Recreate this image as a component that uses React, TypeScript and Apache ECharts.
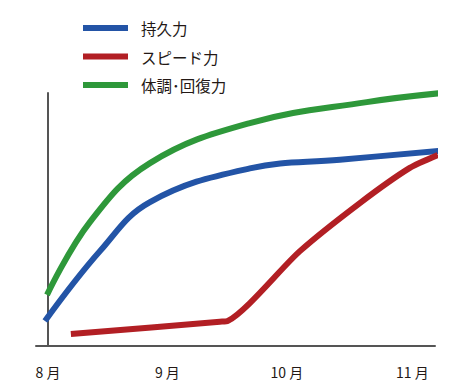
import React, { useEffect, useRef } from "react";
import * as echarts from "echarts";

// x in months since August (0 = 8月), y in relative level (0..100)
const seriesNames = ["持久力", "スピード力", "体調･回復力"];
const seriesColors = ["#2354a6", "#b21f24", "#2e983a"];

const tickValues = [0, 1, 2, 3.05];
const tickLabels = ["8 月", "9 月", "10 月", "11 月"];

const staminaData: number[][] = [
  [-0.025, 9.9],
  [0.435, 37.5],
  [0.854, 56.9],
  [1.69, 70.2],
  [2.444, 73.6],
  [3.272, 77.1],
];

const speedData: number[][] = [
  [0.192, 4.7],
  [1.439, 9.6],
  [1.506, 9.9],
  [2.109, 37.5],
  [2.611, 56.5],
  [3.029, 70.4],
  [3.264, 75.5],
];

const conditionData: number[][] = [
  [-0.008, 20.2],
  [0.351, 49.0],
  [0.854, 72.3],
  [1.69, 88.1],
  [2.669, 96.4],
  [3.297, 100.0],
];

export default function App() {
  const ref = useRef<HTMLDivElement>(null);
  useEffect(() => {
    document.body.style.margin = "0";
    if (!ref.current) return;
    const chart = echarts.init(ref.current, null, { renderer: "svg" });
    const font = "'Noto Sans CJK JP', 'Noto Sans', sans-serif";
    const datas = [staminaData, speedData, conditionData];
    const smooths = [0.4, 0.25, 0.4];
    chart.setOption({
      animation: false,
      backgroundColor: "#ffffff",
      textStyle: { fontFamily: font },
      legend: {
        orient: "vertical",
        left: 78,
        top: 13,
        itemWidth: 45,
        itemHeight: 6,
        itemGap: 8.5,
        icon: "rect",
        data: seriesNames,
        textStyle: {
          fontSize: 15.5,
          lineHeight: 20,
          color: "#231815",
          fontFamily: font,
          padding: [0, 0, 0, 8],
        },
      },
      grid: { left: 36, right: 26, top: 93, bottom: 45 },
      xAxis: {
        type: "value",
        min: -0.1,
        max: 3.24,
        splitLine: { show: false },
        axisTick: { show: false },
        axisLine: { show: true, lineStyle: { color: "#555555", width: 2 } },
        axisLabel: {
          customValues: tickValues,
          formatter: (v: number) => {
            const i = tickValues.findIndex((t) => Math.abs(t - v) < 1e-6);
            return i >= 0 ? tickLabels[i] : "";
          },
          fontSize: 14,
          color: "#231815",
          margin: 19,
          fontFamily: font,
        },
      },
      yAxis: {
        type: "value",
        min: 0,
        max: 100,
        splitLine: { show: false },
        axisTick: { show: false },
        axisLabel: { show: false },
        axisLine: { show: true, lineStyle: { color: "#555555", width: 2 } },
      },
      series: seriesNames.map((name, i) => ({
        name,
        type: "line",
        data: datas[i],
        smooth: smooths[i],
        showSymbol: false,
        symbol: "none",
        clip: false,
        color: seriesColors[i],
        lineStyle: { width: 6, color: seriesColors[i], cap: "butt" },
      })),
    });
    return () => chart.dispose();
  }, []);
  return <div ref={ref} style={{ width: 461, height: 391 }} />;
}
